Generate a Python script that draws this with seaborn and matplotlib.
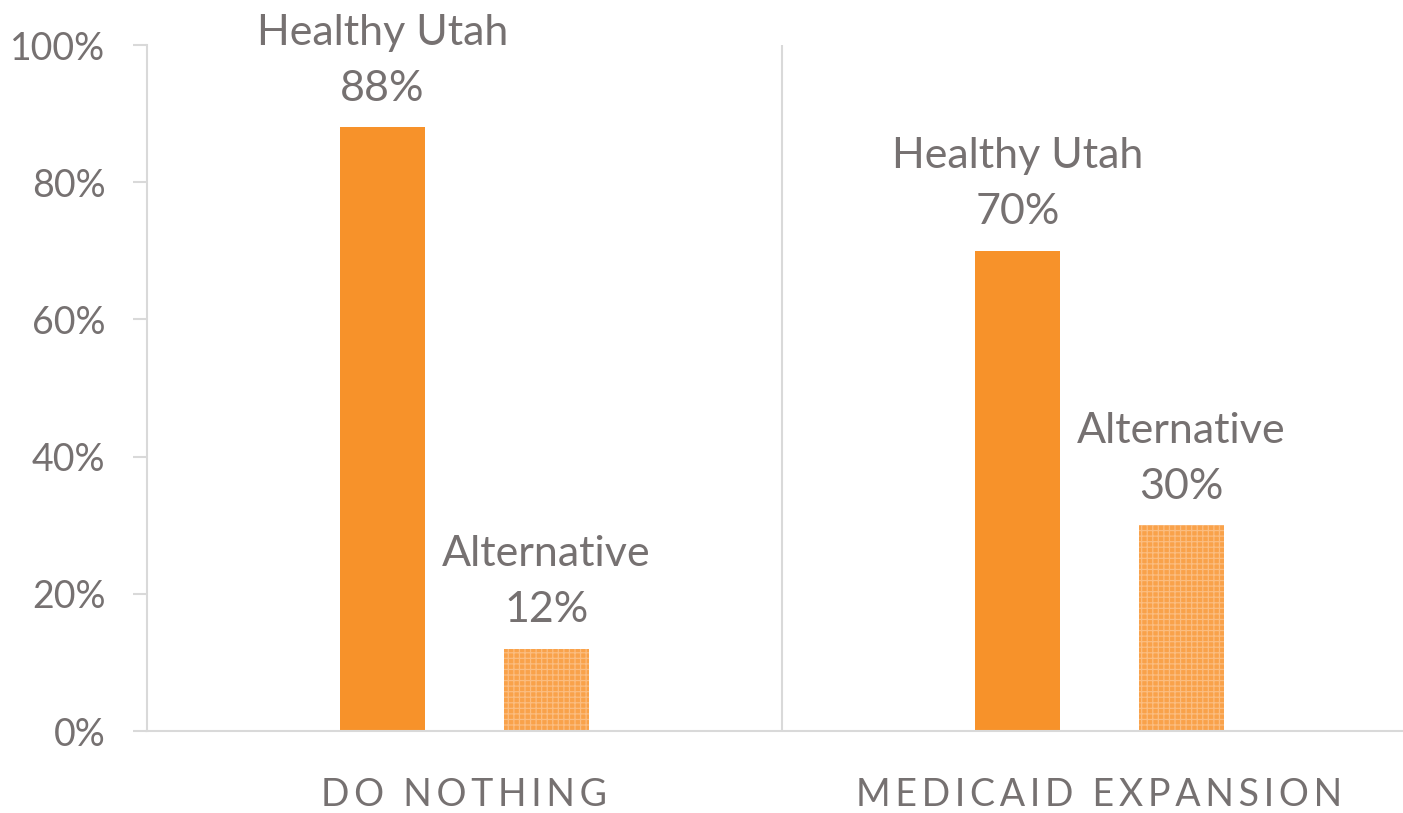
import matplotlib
matplotlib.use("Agg")
import matplotlib.pyplot as plt
import seaborn as sns
import pandas as pd

categories = ["DO NOTHING", "MEDICAID EXPANSION"]
series = ["Healthy Utah", "Alternative"]
healthy_utah = [88, 70]
alternative = [12, 30]
yticks = [0, 20, 40, 60, 80, 100]

rows = []
for i, c in enumerate(categories):
    rows.append({"cat": c, "series": series[0], "val": healthy_utah[i] / 100})
    rows.append({"cat": c, "series": series[1], "val": alternative[i] / 100})
df = pd.DataFrame(rows)

sns.set_theme(style="white")
plt.rcParams["font.family"] = ["Lato", "DejaVu Sans"]
plt.rcParams["hatch.linewidth"] = 0.9

TXT = "#767171"
GRID = "#D9D9D9"
ORANGE = "#F7922A"
ALT = "#F9A24A"

W, H = 1403, 813
fig = plt.figure(figsize=(W / 100, H / 100), dpi=100)
ax = fig.add_axes([147 / W, (H - 731) / H, (W - 147) / W, (731 - 45) / H])

sns.barplot(data=df, x="cat", y="val", hue="series", order=categories,
            hue_order=series, palette={series[0]: ORANGE, series[1]: ALT},
            width=0.516, gap=0.477, ax=ax, legend=False, saturation=1,
            linewidth=0, errorbar=None)

for p in ax.containers[1]:
    p.set_hatch("+++")
    p.set_edgecolor("#FBBD80")
    p.set_linewidth(0)

for cont, name in zip(ax.containers, series):
    for p in cont:
        h = p.get_height()
        ax.annotate(f"{name}\n{round(h * 100)}%",
                    (p.get_x() + p.get_width() / 2, h),
                    xytext=(0, 14), textcoords="offset points",
                    ha="center", va="bottom", fontsize=31, color=TXT,
                    linespacing=1.58, annotation_clip=False)

spaced = ["\u2009".join(c) for c in categories]

ax.set_xlim(-0.5, 1.478)
ax.set_ylim(0, 1.0)
ax.set_yticks([v / 100 for v in yticks])
ax.set_yticklabels([f"{v}%" for v in yticks], fontsize=27, color=TXT)
ax.set_xticks(range(len(categories)))
ax.set_xticklabels(spaced, fontsize=27, color=TXT)
ax.tick_params(axis="y", length=10, width=1.5, color=GRID, pad=20, left=True)
ax.tick_params(axis="x", length=0, pad=33)
ax.set_xlabel("")
ax.set_ylabel("")

for s in ["top", "right"]:
    ax.spines[s].set_visible(False)
for s in ["left", "bottom"]:
    ax.spines[s].set_color(GRID)
    ax.spines[s].set_linewidth(1.5)
ax.axvline(0.5, ymin=0, ymax=1, color=GRID, linewidth=1.5, zorder=0)

fig.savefig("out.png", dpi=100)
